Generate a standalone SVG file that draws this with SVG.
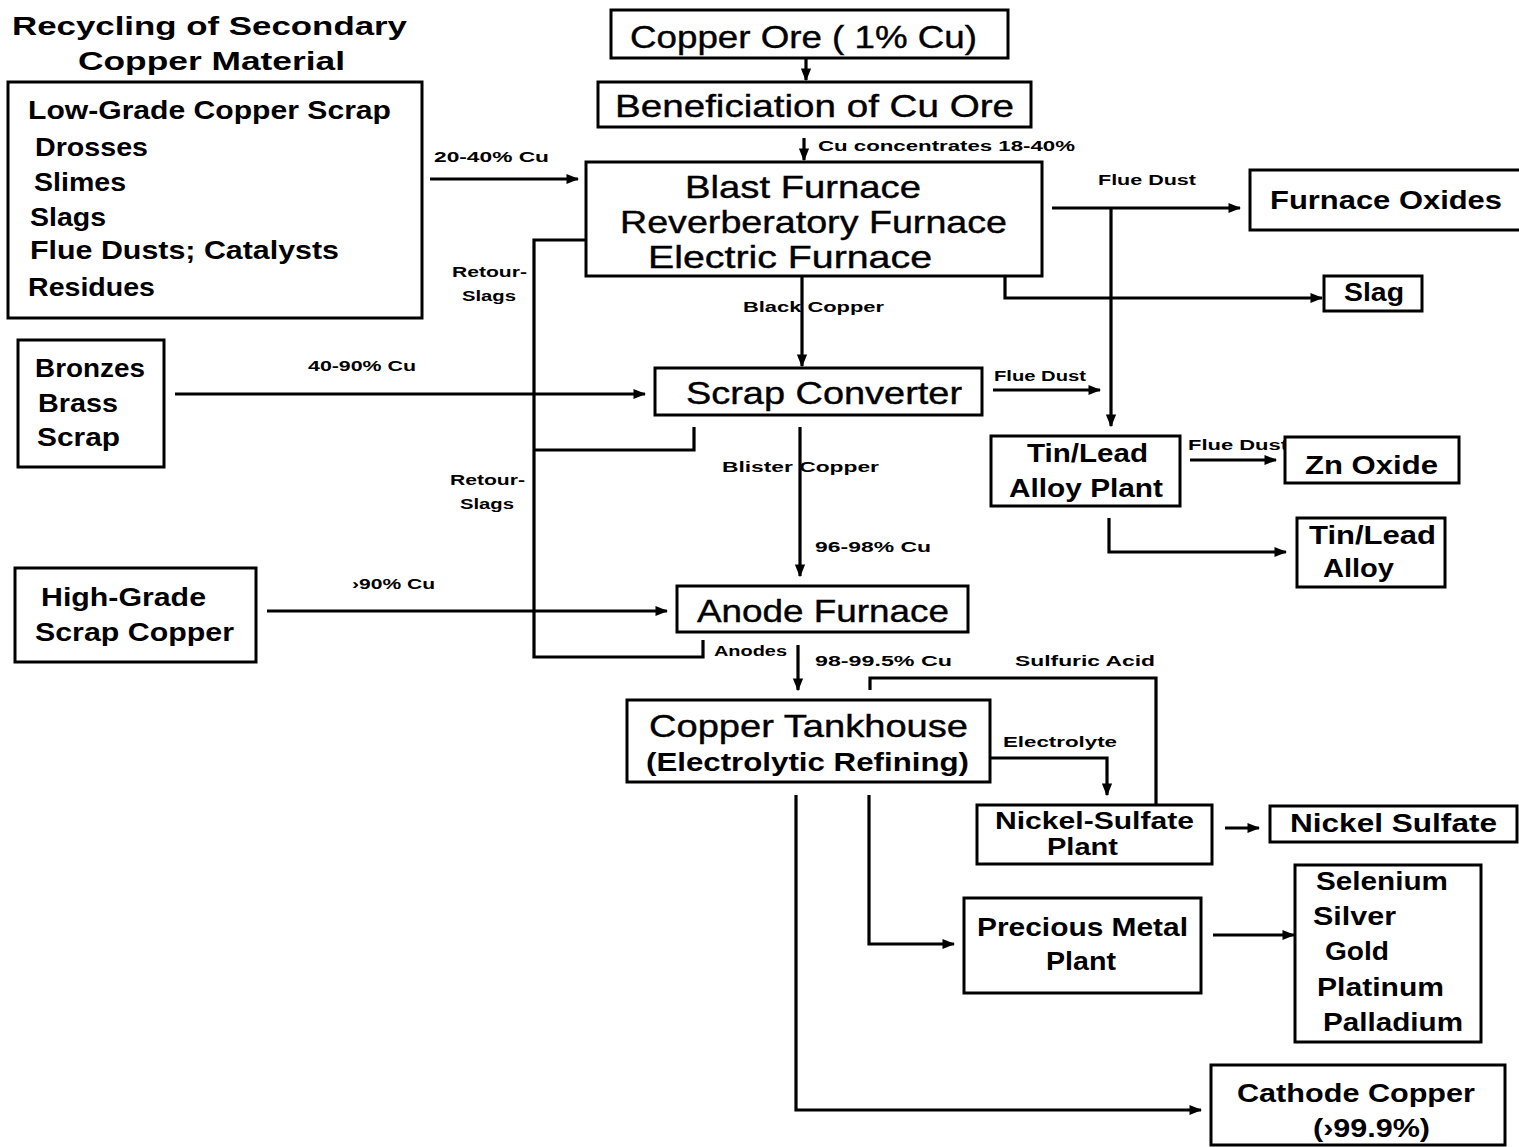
<svg xmlns="http://www.w3.org/2000/svg" width="1519" height="1147" viewBox="0 0 1519 1147">
  <style>
    .box { fill: #fff; stroke: #000; stroke-width: 3; }
    .ln { fill: none; stroke: #000; stroke-width: 3.2; stroke-linejoin: miter; }
    .big { font-family: "Liberation Sans", Arial, sans-serif; font-size: 32px; fill: #000; stroke: #000; stroke-width: 0.4; }
    .med { font-family: "Liberation Sans", Arial, sans-serif; font-size: 26px; font-weight: bold; fill: #000; }
    .tight { font-size: 23px; }
    .sm { font-family: "Liberation Sans", Arial, sans-serif; font-size: 14px; font-weight: bold; fill: #000; }
  </style>
  <defs>
    <marker id="ah" viewBox="0 0 10 10" refX="9" refY="5" markerWidth="4" markerHeight="4" orient="auto" markerUnits="strokeWidth">
      <path d="M0,1 L10,5 L0,9 z" fill="#000"/>
    </marker>
  </defs>
  <rect width="1519" height="1147" fill="#fff"/>

  <!-- title -->
  <g id="title">
    <text class="med" x="12" y="35" textLength="395" lengthAdjust="spacingAndGlyphs">Recycling of Secondary</text>
    <text class="med" x="78" y="70" textLength="267" lengthAdjust="spacingAndGlyphs">Copper Material</text>
  </g>

  <!-- flow lines -->
  <g id="connectors">
    <path class="ln" d="M806,58 V80" marker-end="url(#ah)"/>
    <path class="ln" d="M804,138 V160" marker-end="url(#ah)"/>
    <path class="ln" d="M430,179 H578" marker-end="url(#ah)"/>
    <!-- return slag loop -->
    <path class="ln" d="M586,240 H534 V657 H703 V640"/>
    <path class="ln" d="M534,450 H694 V427"/>
    <path class="ln" d="M802,276 V366" marker-end="url(#ah)"/>
    <path class="ln" d="M1052,208 H1240" marker-end="url(#ah)"/>
    <path class="ln" d="M1111,208 V426" marker-end="url(#ah)"/>
    <path class="ln" d="M1005,276 V298 H1322" marker-end="url(#ah)"/>
    <path class="ln" d="M175,394 H645" marker-end="url(#ah)"/>
    <path class="ln" d="M993,390 H1100" marker-end="url(#ah)"/>
    <path class="ln" d="M800,427 V576" marker-end="url(#ah)"/>
    <path class="ln" d="M267,611 H667" marker-end="url(#ah)"/>
    <path class="ln" d="M798,645 V690" marker-end="url(#ah)"/>
    <path class="ln" d="M1156,805 V678 H870 V690"/>
    <path class="ln" d="M990,758 H1107 V795" marker-end="url(#ah)"/>
    <path class="ln" d="M1190,460 H1276" marker-end="url(#ah)"/>
    <path class="ln" d="M1109,518 V552 H1286" marker-end="url(#ah)"/>
    <path class="ln" d="M1225,828 H1259" marker-end="url(#ah)"/>
    <path class="ln" d="M869,795 V944 H954" marker-end="url(#ah)"/>
    <path class="ln" d="M1213,935 H1294" marker-end="url(#ah)"/>
    <path class="ln" d="M796,795 V1110 H1201" marker-end="url(#ah)"/>
  </g>

  <!-- flow labels -->
  <g id="labels">
    <text class="sm" x="434" y="162" textLength="115" lengthAdjust="spacingAndGlyphs">20-40% Cu</text>
    <text class="sm" x="818" y="151" textLength="257" lengthAdjust="spacingAndGlyphs">Cu concentrates 18-40%</text>
    <text class="sm" x="1098" y="185" textLength="98" lengthAdjust="spacingAndGlyphs">Flue Dust</text>
    <text class="sm" x="452" y="277" textLength="75" lengthAdjust="spacingAndGlyphs">Retour-</text>
    <text class="sm" x="462" y="301" textLength="54" lengthAdjust="spacingAndGlyphs">Slags</text>
    <text class="sm" x="743" y="312" textLength="141" lengthAdjust="spacingAndGlyphs">Black Copper</text>
    <text class="sm" x="308" y="371" textLength="108" lengthAdjust="spacingAndGlyphs">40-90% Cu</text>
    <text class="sm" x="994" y="381" textLength="92" lengthAdjust="spacingAndGlyphs">Flue Dust</text>
    <text class="sm" x="450" y="485" textLength="75" lengthAdjust="spacingAndGlyphs">Retour-</text>
    <text class="sm" x="460" y="509" textLength="54" lengthAdjust="spacingAndGlyphs">Slags</text>
    <text class="sm" x="722" y="472" textLength="157" lengthAdjust="spacingAndGlyphs">Blister Copper</text>
    <text class="sm" x="815" y="552" textLength="116" lengthAdjust="spacingAndGlyphs">96-98% Cu</text>
    <text class="sm" x="352" y="589" textLength="83" lengthAdjust="spacingAndGlyphs">›90% Cu</text>
    <text class="sm" x="1188" y="450" textLength="100" lengthAdjust="spacingAndGlyphs">Flue Dust</text>
    <text class="sm" x="714" y="656" textLength="73" lengthAdjust="spacingAndGlyphs">Anodes</text>
    <text class="sm" x="815" y="666" textLength="137" lengthAdjust="spacingAndGlyphs">98-99.5% Cu</text>
    <text class="sm" x="1015" y="666" textLength="140" lengthAdjust="spacingAndGlyphs">Sulfuric Acid</text>
    <text class="sm" x="1003" y="747" textLength="114" lengthAdjust="spacingAndGlyphs">Electrolyte</text>
  </g>

  <!-- input materials -->
  <g id="low-grade">
    <rect class="box" x="8" y="82" width="414" height="236"/>
    <text class="med" x="28" y="119" textLength="363" lengthAdjust="spacingAndGlyphs">Low-Grade Copper Scrap</text>
    <text class="med" x="35" y="156" textLength="113" lengthAdjust="spacingAndGlyphs">Drosses</text>
    <text class="med" x="34" y="191" textLength="92" lengthAdjust="spacingAndGlyphs">Slimes</text>
    <text class="med" x="30" y="226" textLength="76" lengthAdjust="spacingAndGlyphs">Slags</text>
    <text class="med" x="30" y="259" textLength="309" lengthAdjust="spacingAndGlyphs">Flue Dusts; Catalysts</text>
    <text class="med" x="28" y="296" textLength="127" lengthAdjust="spacingAndGlyphs">Residues</text>
  </g>
  <g id="bronzes">
    <rect class="box" x="18" y="340" width="146" height="127"/>
    <text class="med" x="35" y="377" textLength="110" lengthAdjust="spacingAndGlyphs">Bronzes</text>
    <text class="med" x="38" y="412" textLength="80" lengthAdjust="spacingAndGlyphs">Brass</text>
    <text class="med" x="37" y="446" textLength="83" lengthAdjust="spacingAndGlyphs">Scrap</text>
  </g>
  <g id="high-grade">
    <rect class="box" x="15" y="568" width="241" height="94"/>
    <text class="med" x="41" y="606" textLength="165" lengthAdjust="spacingAndGlyphs">High-Grade</text>
    <text class="med" x="35" y="641" textLength="199" lengthAdjust="spacingAndGlyphs">Scrap Copper</text>
  </g>

  <!-- main process chain -->
  <g id="copper-ore">
    <rect class="box" x="611" y="10" width="397" height="48"/>
    <text class="big" x="630" y="48" textLength="347" lengthAdjust="spacingAndGlyphs">Copper Ore ( 1% Cu)</text>
  </g>
  <g id="beneficiation">
    <rect class="box" x="598" y="82" width="433" height="45"/>
    <text class="big" x="615" y="117" textLength="399" lengthAdjust="spacingAndGlyphs">Beneficiation of Cu Ore</text>
  </g>
  <g id="furnaces">
    <rect class="box" x="586" y="162" width="456" height="114"/>
    <text class="big" x="685" y="198" textLength="236" lengthAdjust="spacingAndGlyphs">Blast Furnace</text>
    <text class="big" x="620" y="233" textLength="387" lengthAdjust="spacingAndGlyphs">Reverberatory Furnace</text>
    <text class="big" x="648" y="268" textLength="284" lengthAdjust="spacingAndGlyphs">Electric Furnace</text>
  </g>
  <g id="scrap-converter">
    <rect class="box" x="655" y="368" width="327" height="47"/>
    <text class="big" x="686" y="404" textLength="276" lengthAdjust="spacingAndGlyphs">Scrap Converter</text>
  </g>
  <g id="anode-furnace">
    <rect class="box" x="677" y="586" width="291" height="46"/>
    <text class="big" x="697" y="622" textLength="252" lengthAdjust="spacingAndGlyphs">Anode Furnace</text>
  </g>
  <g id="tankhouse">
    <rect class="box" x="627" y="700" width="363" height="82"/>
    <text class="big" x="649" y="737" textLength="319" lengthAdjust="spacingAndGlyphs">Copper Tankhouse</text>
    <text class="med" x="646" y="771" textLength="323" lengthAdjust="spacingAndGlyphs">(Electrolytic Refining)</text>
  </g>

  <!-- by-products and products -->
  <g id="furnace-oxides">
    <rect class="box" x="1250" y="170" width="275" height="60"/>
    <text class="med" x="1270" y="209" textLength="232" lengthAdjust="spacingAndGlyphs">Furnace Oxides</text>
  </g>
  <g id="slag">
    <rect class="box" x="1324" y="276" width="98" height="35"/>
    <text class="med" x="1344" y="301" textLength="60" lengthAdjust="spacingAndGlyphs">Slag</text>
  </g>
  <g id="tin-lead-plant">
    <rect class="box" x="991" y="436" width="189" height="70"/>
    <text class="med" x="1027" y="462" textLength="121" lengthAdjust="spacingAndGlyphs">Tin/Lead</text>
    <text class="med" x="1009" y="497" textLength="154" lengthAdjust="spacingAndGlyphs">Alloy Plant</text>
  </g>
  <g id="zn-oxide">
    <rect class="box" x="1285" y="437" width="174" height="46"/>
    <text class="med" x="1305" y="474" textLength="133" lengthAdjust="spacingAndGlyphs">Zn Oxide</text>
  </g>
  <g id="tin-lead-alloy">
    <rect class="box" x="1297" y="518" width="148" height="69"/>
    <text class="med" x="1309" y="544" textLength="127" lengthAdjust="spacingAndGlyphs">Tin/Lead</text>
    <text class="med" x="1323" y="577" textLength="71" lengthAdjust="spacingAndGlyphs">Alloy</text>
  </g>
  <g id="nickel-plant">
    <rect class="box" x="977" y="805" width="235" height="59"/>
    <text class="med tight" x="995" y="829" textLength="199" lengthAdjust="spacingAndGlyphs">Nickel-Sulfate</text>
    <text class="med tight" x="1047" y="855" textLength="71" lengthAdjust="spacingAndGlyphs">Plant</text>
  </g>
  <g id="nickel-sulfate">
    <rect class="box" x="1270" y="806" width="247" height="36"/>
    <text class="med" x="1290" y="832" textLength="207" lengthAdjust="spacingAndGlyphs">Nickel Sulfate</text>
  </g>
  <g id="precious-metal">
    <rect class="box" x="964" y="898" width="237" height="95"/>
    <text class="med" x="977" y="936" textLength="211" lengthAdjust="spacingAndGlyphs">Precious Metal</text>
    <text class="med" x="1046" y="970" textLength="70" lengthAdjust="spacingAndGlyphs">Plant</text>
  </g>
  <g id="precious-products">
    <rect class="box" x="1295" y="865" width="186" height="177"/>
    <text class="med" x="1316" y="890" textLength="132" lengthAdjust="spacingAndGlyphs">Selenium</text>
    <text class="med" x="1313" y="925" textLength="83" lengthAdjust="spacingAndGlyphs">Silver</text>
    <text class="med" x="1325" y="960" textLength="64" lengthAdjust="spacingAndGlyphs">Gold</text>
    <text class="med" x="1317" y="996" textLength="127" lengthAdjust="spacingAndGlyphs">Platinum</text>
    <text class="med" x="1323" y="1031" textLength="140" lengthAdjust="spacingAndGlyphs">Palladium</text>
  </g>
  <g id="cathode-copper">
    <rect class="box" x="1211" y="1065" width="294" height="80"/>
    <text class="med" x="1237" y="1102" textLength="238" lengthAdjust="spacingAndGlyphs">Cathode Copper</text>
    <text class="med" x="1313" y="1137" textLength="117" lengthAdjust="spacingAndGlyphs">(›99.9%)</text>
  </g>
</svg>
